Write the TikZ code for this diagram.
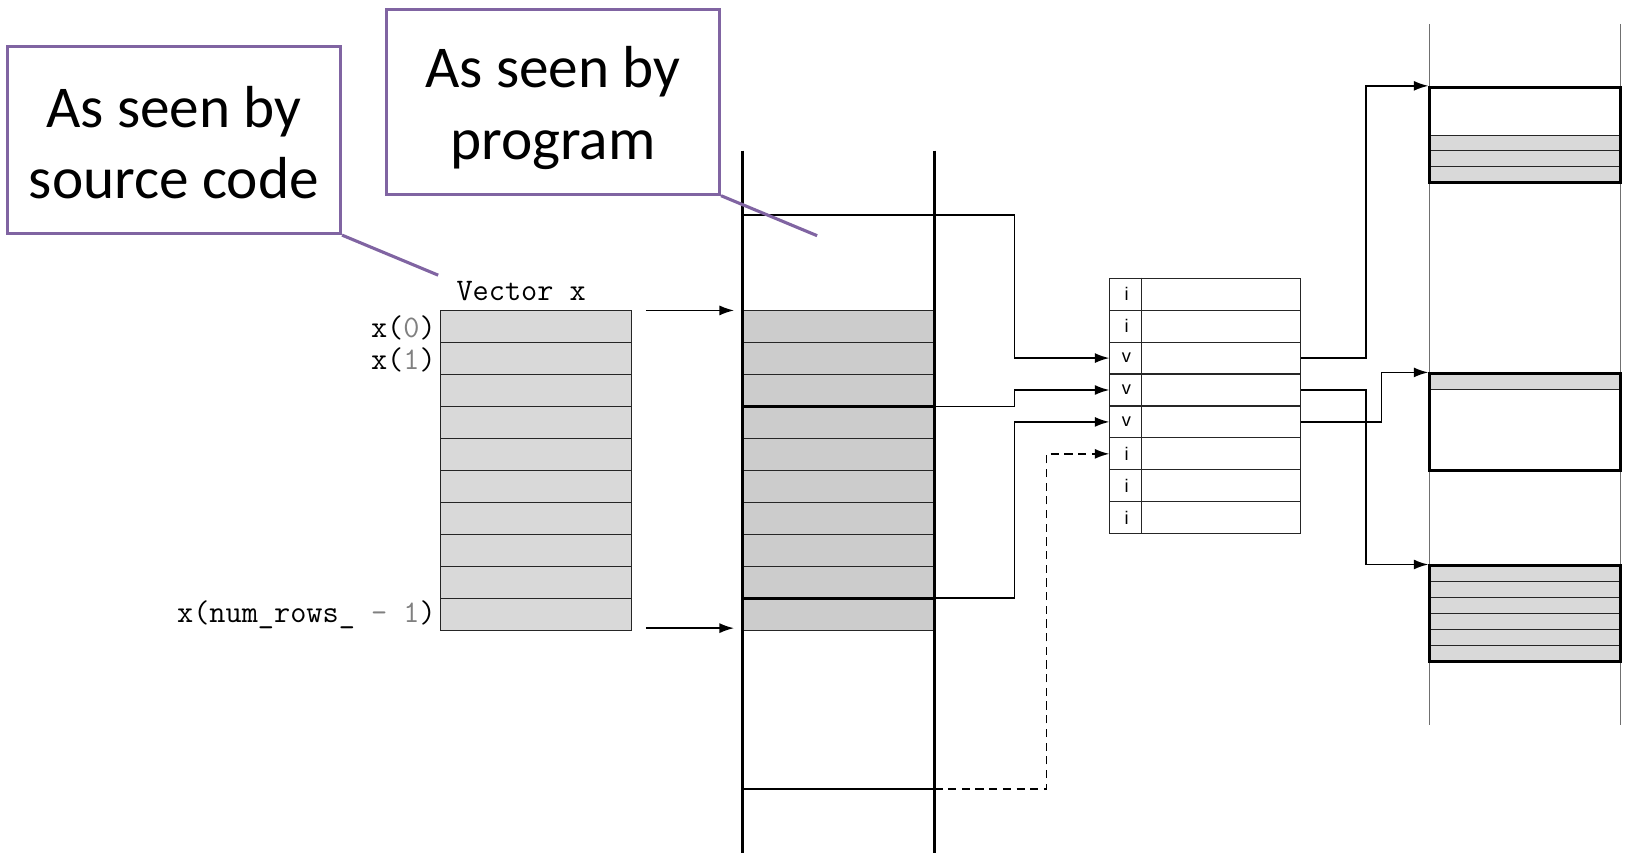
\documentclass[tikz,border=0pt]{standalone}
\usepackage{fontspec}
\newfontfamily\notefont{Carlito}
\newfontfamily\tagfont{Liberation Sans}
\usetikzlibrary{arrows.meta}
\definecolor{notepurple}{HTML}{8064A2}
\definecolor{lightcell}{HTML}{D9D9D9}
\definecolor{midcell}{HTML}{CCCCCC}
\definecolor{codegray}{HTML}{808080}
\definecolor{railgray}{HTML}{707070}

\begin{document}
\begin{tikzpicture}[x=0.02cm, y=-0.02cm,
    note/.style={draw=notepurple, line width=1.7pt, inner sep=0pt, minimum width=6.42cm},
    notetext/.style={align=center, inner sep=0pt, font=\notefont\fontsize{32.5}{39}\selectfont},
    code/.style={inner sep=0pt, font=\ttfamily\fontsize{17.2}{20}\selectfont},
    cellrow/.style={draw=black!85, line width=0.5pt},
    trow/.style={draw=black!85, line width=0.6pt, minimum width=3.68cm, minimum height=0.615cm, inner sep=0pt},
    tag/.style={inner sep=0pt, font=\tagfont\fontsize{10}{11}\selectfont},
    heap/.style={draw, line width=1.5pt, minimum width=3.68cm, inner sep=0pt},
    wall/.style={line width=1.7pt},
    rail/.style={draw=railgray, line width=0.5pt},
    ptr/.style={line width=0.9pt, -{Latex[length=8pt, width=5.5pt]}}]
    \useasboundingbox (0,0) rectangle (1568,827);

    % callouts
    \node[note, minimum height=3.6cm] (srcnote) at (167.5,135) {};
    \node[notetext] (srctext) at (167.5,137) {As seen by\\source code};
    \node[note, minimum height=3.56cm] (prgnote) at (532.5,98) {};
    \node[notetext] (prgtext) at (532.5,104) {As seen by\\program};
    \coordinate (srctip) at (422,265);
    \coordinate (prgtip) at (787,227);
    \draw[notepurple, line width=1.7pt] (srcnote.south east) -- (srctip);

    % vector as seen by the source code
    \node[code] (vname) at (502,280) {Vector x};
    \foreach \r in {0,...,9}
        \draw[cellrow, fill=lightcell] (424,{299+30.8*\r}) rectangle (608,{299+30.8*(\r+1)});
    \node[code, anchor=east] (lbl0) at (420,315.5) {x({\color{codegray}0})};
    \node[code, anchor=east] (lbl1) at (420,346.3) {x({\color{codegray}1})};
    \node[code, anchor=east] (lbllast) at (420,592.5) {x(num\_rows\_ {\color{codegray}- 1})};

    % memory as seen by the program
    \foreach \r in {0,...,9}
        \draw[cellrow, fill=midcell] (715,{299+30.8*\r}) rectangle (900,{299+30.8*(\r+1)});
    \draw[line width=1.3pt] (715,207) -- (900,207);
    \draw[line width=1.5pt] (715,391.4) -- (900,391.4);
    \draw[line width=1.5pt] (715,576.2) -- (900,576.2);
    \draw[line width=1.5pt] (715,760) -- (900,760);
    \draw[wall] (715,145) -- (715,822);
    \draw[wall] (900,145) -- (900,822);
    \draw[notepurple, line width=1.7pt] (prgnote.south east) -- (prgtip);

    \coordinate (segA) at (900,207);
    \coordinate (segB) at (900,391.4);
    \coordinate (segC) at (900,576.2);
    \coordinate (segD) at (900,760);
    \coordinate (firstfrom) at (622,299);
    \coordinate (firstto) at (707,299);
    \coordinate (lastfrom) at (622,605);
    \coordinate (lastto) at (707,605);
    \draw[ptr] (firstfrom) -- (firstto);
    \draw[ptr] (lastfrom) -- (lastto);

    % page table
    \foreach \k/\lbl in {1/i,2/i,3/v,4/v,5/v,6/i,7/i,8/i} {
        \node[trow] (t\k) at (1161,{268+30.75*(\k-0.5)}) {};
        \node[tag] at (1085,{268+30.75*(\k-0.5)}) {\lbl};
    }
    \draw[line width=0.6pt, black!85] (t1.north west) ++(31,0) -- ++(0,246);

    \draw[ptr] (segA) -- ++(77,0) |- (t3.west);
    \draw[ptr] (segB) -- ++(77,0) |- (t4.west);
    \draw[ptr] (segC) -- ++(77,0) |- (t5.west);
    \draw[ptr, dash pattern=on 4.5pt off 3pt] (segD) -- ++(108,0) |- (t6.west);

    % physical memory
    \draw[rail] (1377,23) -- (1377,698);
    \draw[rail] (1561,23) -- (1561,698);
    \foreach \r in {3,4,5}
        \draw[cellrow, fill=lightcell] (1377,{84+15.33*\r}) rectangle (1561,{84+15.33*(\r+1)});
    \draw[cellrow, fill=lightcell] (1377,360) rectangle (1561,375.5);
    \foreach \r in {0,...,5}
        \draw[cellrow, fill=lightcell] (1377,{545+15.33*\r}) rectangle (1561,{545+15.33*(\r+1)});
    \node[heap, minimum height=1.84cm] (heapA) at (1469,130) {};
    \node[heap, minimum height=1.86cm] (heapB) at (1469,406.5) {};
    \node[heap, minimum height=1.84cm] (heapC) at (1469,591) {};

    \draw[ptr] (t3.east) -- ++(62,0) |- (heapA.north west);
    \draw[ptr] (t4.east) -- ++(62,0) |- (heapC.north west);
    \draw[ptr] (t5.east) -- ++(77,0) |- (heapB.north west);
\end{tikzpicture}
\end{document}
